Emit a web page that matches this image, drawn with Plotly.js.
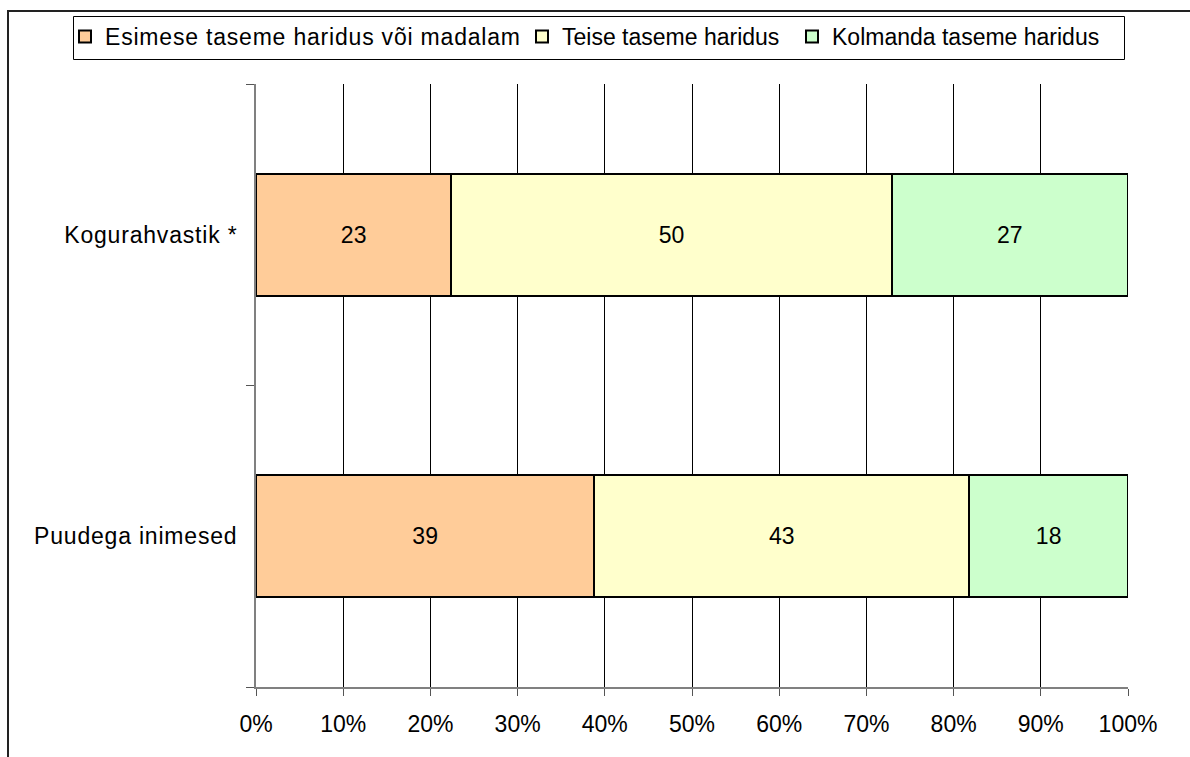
<!DOCTYPE html>
<html>
<head>
<meta charset="utf-8">
<script src="https://cdn.plot.ly/plotly-3.0.1.min.js"></script>
<style>
  html, body { margin: 0; padding: 0; background: #ffffff; overflow: hidden; }
  #frame { position: absolute; left: 7px; top: 10px; width: 2000px; height: 2000px;
           border-left: 2px solid #222; border-top: 2px solid #222; }
  #chart { position: absolute; left: 0; top: 0; width: 1190px; height: 757px; }
  #chart .legendtext, #chart .ytick text { letter-spacing: 0.8px; }
  #chart .legend .scrollbox, #chart .legend { clip-path: none !important; }
</style>
</head>
<body>
<div id="frame"></div>
<div id="chart"></div>
<script>
// Categories (bottom to top, as in the source chart)
const categories = ['Puudega inimesed', 'Kogurahvastik *'];

// Series names
const seriesNames = ['Esimese taseme haridus või madalam', 'Teise taseme haridus', 'Kolmanda taseme haridus'];

// Series values (share, %)
const esimese = [38.8, 22.4];
const teise = [43.0, 50.5];
const kolmanda = [18.2, 27.1];

// Printed data labels
const esimeseLabels = ['39', '23'];
const teiseLabels = ['43', '50'];
const kolmandaLabels = ['18', '27'];

// X tick values / labels
const xTickVals = [0, 10, 20, 30, 40, 50, 60, 70, 80, 90, 100];
const xTickText = ['0%', '10%', '20%', '30%', '40%', '50%', '60%', '70%', '80%', '90%', '100%'];

const colors = ['#FFCC99', '#FFFFCC', '#CCFFCC'];
const FONT = 'Liberation Sans, Arial, sans-serif';
const FS = 23;

// plot-area geometry (pixels) used to place the legend pieces
const PL = 256, PW = 872, PT = 84, PH = 603;
const px2x = p => (p - PL) / PW;
const px2y = p => 1 + (PT - p) / PH;

function mk(name, vals, labels, color, legendId) {
  return {
    type: 'bar', orientation: 'h', name: name, legend: legendId,
    y: categories, x: vals, text: labels,
    textposition: 'inside', insidetextanchor: 'middle', textangle: 0,
    textfont: { family: FONT, size: FS, color: '#000' },
    marker: { color: color, line: { color: '#000', width: 2 } },
    hoverinfo: 'none', cliponaxis: false
  };
}

const data = [
  mk(seriesNames[0], esimese, esimeseLabels, colors[0], 'legend'),
  mk(seriesNames[1], teise, teiseLabels, colors[1], 'legend2'),
  mk(seriesNames[2], kolmanda, kolmandaLabels, colors[2], 'legend3')
];

function leg(swatchCenterPx) {
  return {
    orientation: 'h', x: px2x(swatchCenterPx - 20), xanchor: 'left',
    y: px2y(36.5), yanchor: 'middle',
    borderwidth: 0, bgcolor: 'rgba(0,0,0,0)',
    font: { family: FONT, size: FS, color: '#000' },
    itemclick: false, itemdoubleclick: false
  };
}

const layout = {
  width: 1190, height: 757,
  margin: { l: PL, r: 1190 - PL - PW, t: PT, b: 757 - PT - PH, pad: 0 },
  paper_bgcolor: 'rgba(0,0,0,0)', plot_bgcolor: 'rgba(0,0,0,0)',
  barmode: 'stack', bargap: 0.595,
  font: { family: FONT, size: FS, color: '#000' },
  xaxis: {
    range: [0, 100], tickvals: xTickVals, ticktext: xTickText,
    showgrid: true, gridcolor: '#000', gridwidth: 1,
    showline: true, linecolor: '#808080', linewidth: 2,
    ticks: 'outside', ticklen: 7, tickcolor: '#555', tickwidth: 1,
    ticklabelstandoff: 8,
    zeroline: false, fixedrange: true,
    tickfont: { family: FONT, size: FS, color: '#000' }
  },
  yaxis: {
    type: 'category', categoryorder: 'array', categoryarray: categories,
    showline: true, linecolor: '#808080', linewidth: 2,
    ticks: 'outside', ticklen: 8, tickcolor: '#555', tickwidth: 1,
    tickson: 'boundaries', ticklabelstandoff: 12,
    showgrid: false, zeroline: false, fixedrange: true,
    tickfont: { family: FONT, size: FS, color: '#000' }
  },
  showlegend: true,
  legend: leg(85),
  legend2: leg(542),
  legend3: leg(812),
  shapes: [{
    type: 'rect', xref: 'paper', yref: 'paper', layer: 'above',
    x0: px2x(73.5), x1: px2x(1124.5), y0: px2y(59.5), y1: px2y(16.5),
    line: { color: '#000', width: 1 }, fillcolor: 'rgba(0,0,0,0)'
  }]
};

Plotly.newPlot('chart', data, layout, { staticPlot: true, displayModeBar: false });
</script>
</body>
</html>
